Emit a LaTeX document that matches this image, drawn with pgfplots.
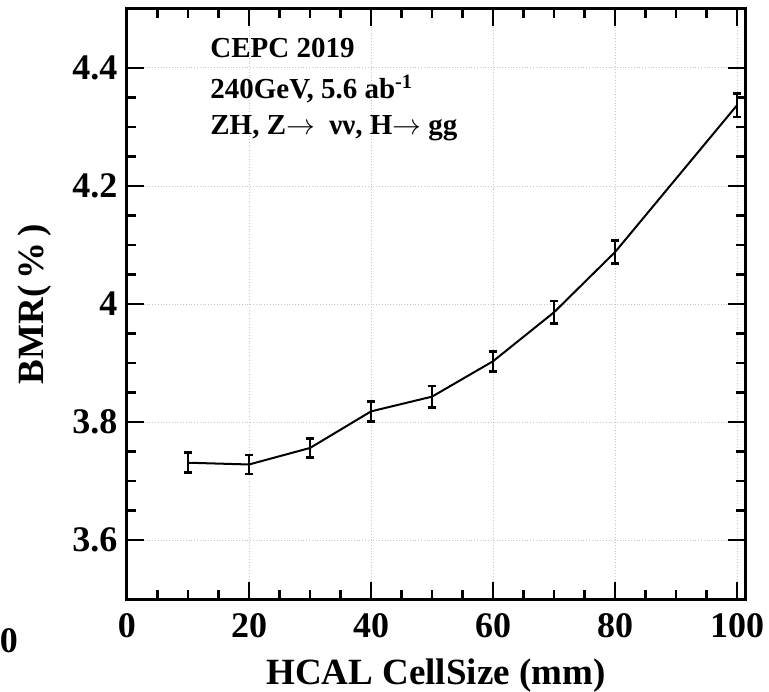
\documentclass[border=0pt]{standalone}
\usepackage{pgfplots}
\pgfplotsset{compat=1.18}
\usepackage{fontspec}
\setmainfont{Liberation Serif}
\begin{document}
\begin{tikzpicture}[font=\bfseries]
\useasboundingbox (-63.5pt,-46pt) rectangle (321pt,299.5pt);
\begin{axis}[
  at={(0,0)}, anchor=south west,
  scale only axis, width=309pt, height=295pt,
  xmin=0, xmax=101.3, ymin=3.5, ymax=4.5,
  xtick={0,20,40,60,80,100},
  ytick={3.6,3.8,4.0,4.2,4.4},
  yticklabels={3.6,3.8,4,4.2,4.4},
  minor x tick num=3, minor y tick num=3,
  tick align=inside, tick pos=both,
  major tick length=8.5pt, minor tick length=4.5pt,
  every tick/.style={black, line width=1.2pt},
  axis line style={line width=1.5pt},
  grid=major,
  major grid style={densely dotted, gray!45, line width=0.5pt},
  /pgf/number format/assume math mode=true,
  xticklabel style={font=\fontsize{18}{20}\selectfont\bfseries, yshift=-3.5pt},
  yticklabel style={font=\fontsize{18}{20}\selectfont\bfseries, xshift=-1.3pt},
  xlabel={HCAL CellSize (mm)},
  ylabel={BMR(\,\%\,)},
  xlabel style={font=\fontsize{18.5}{20}\selectfont\bfseries, at={(axis description cs:0.5,0)}, anchor=base, yshift=-42.5pt},
  ylabel style={font=\fontsize{18.5}{20}\selectfont\bfseries, at={(axis description cs:-0.149,0.5)}, anchor=center},
]
\addplot[black, line width=1pt, mark=none,
  error bars/.cd, y dir=both, y explicit,
  error bar style={line width=1pt},
  error mark options={rotate=90, mark size=2pt, line width=1.4pt}]
  table[x=x, y=y, y error=e] {
x   y     e
10  3.731 0.017
20  3.728 0.016
30  3.756 0.016
40  3.818 0.017
50  3.843 0.018
60  3.903 0.017
70  3.986 0.019
80  4.088 0.020
100 4.337 0.020
};
\end{axis}
\node[inner sep=0pt, anchor=base west, font=\fontsize{14.5}{16}\selectfont\bfseries] at (41.5pt,270.5pt) {CEPC 2019};
\node[inner sep=0pt, anchor=base west, font=\fontsize{14.5}{16}\selectfont\bfseries] at (41.5pt,250pt) {240GeV, 5.6 ab\textsuperscript{-1}};
\node[inner sep=0pt, anchor=base west, font=\fontsize{14.5}{16}\selectfont\bfseries] at (41.5pt,232pt) {ZH, Z$\rightarrow$\ \ νν, H$\rightarrow$ gg};
\node[anchor=base, font=\fontsize{18}{20}\selectfont\bfseries] at (-59pt,-26.5pt) {0};
\end{tikzpicture}
\end{document}
